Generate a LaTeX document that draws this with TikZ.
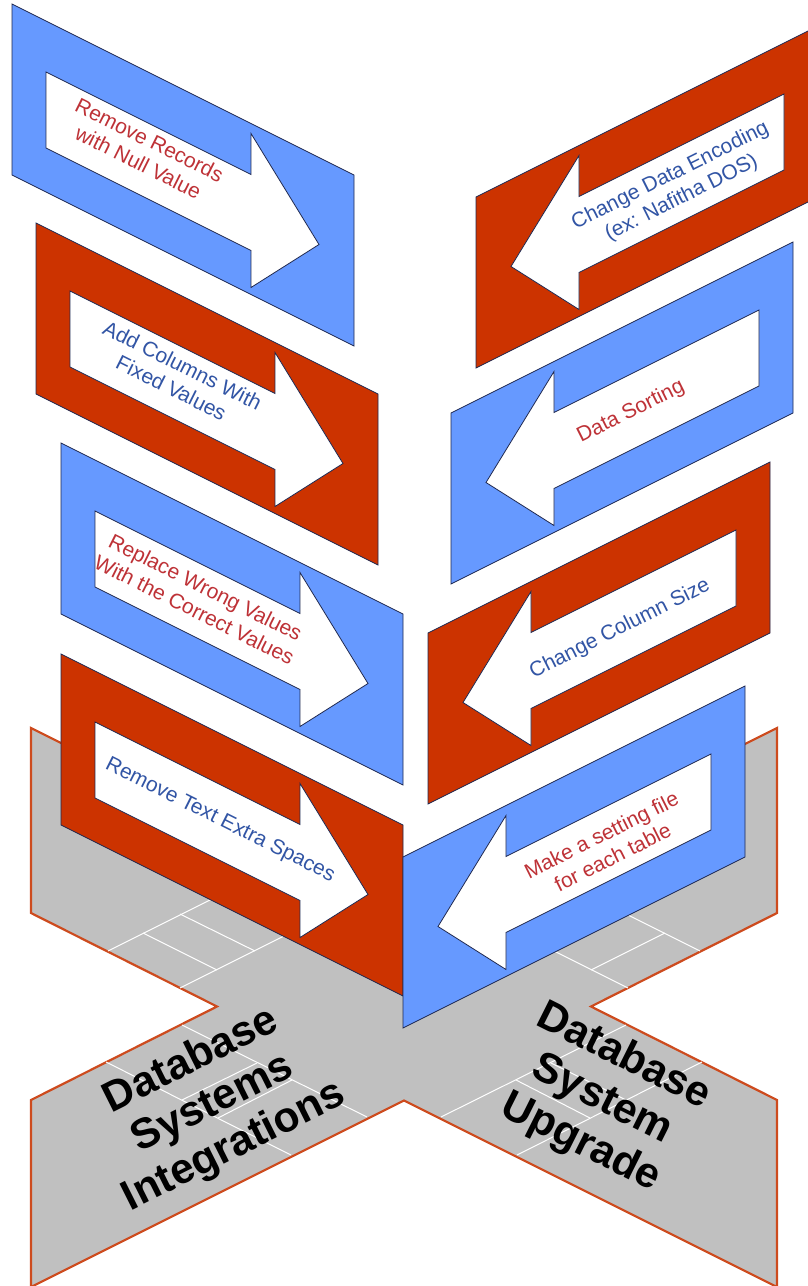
\documentclass[tikz,border=0pt]{standalone}
\usepackage{fontspec}
\setmainfont{Liberation Sans}
\usepackage{tikz}

\definecolor{pblue}{RGB}{102,153,255}
\definecolor{pred}{RGB}{204,51,0}
\definecolor{pedge}{RGB}{30,40,80}
\definecolor{tred}{RGB}{190,50,55}
\definecolor{tblue}{RGB}{50,85,165}
\definecolor{floorgray}{RGB}{192,192,192}
\definecolor{flooredge}{RGB}{205,75,30}

\begin{document}
\begin{tikzpicture}[x=1pt,y=-1pt,
    panel/.style={draw=pedge,line width=0.8pt,line join=miter},
    sign/.style={insert path={(34,51) -- (239,51) -- (239,10) -- (307,87)
        -- (239,164) -- (239,127) -- (34,127) -- cycle}},
    leftwall/.style={yslant=-0.5},
    rightwall/.style={xscale=-1,yslant=-0.5},
    lbl/.style={align=center,inner sep=0pt,font=\fontsize{21}{25}\selectfont},
    bigtext/.style={align=center,inner sep=0pt,font=\bfseries\fontsize{42.5}{48}\selectfont}]

      \useasboundingbox (0,0) rectangle (808,1286);
      \clip (0,0) rectangle (808,1286);

      \path[fill=floorgray,draw=flooredge,line width=2.2pt,line join=miter]
        (31,728) -- (404,914.5) -- (777,728) -- (777,913) -- (591,1006.5)
        -- (777,1100) -- (777,1287) -- (404,1100.5) -- (31,1287) -- (31,1100)
        -- (217,1006.5) -- (31,913) -- cycle;

      \begin{scope}[every path/.style={draw=white,line width=1pt}]
        \path (108,951) -- (230,890);
        \path (180,988) -- (300,928);
        \path (143,933) -- (217,970);
        \path (180,914) -- (255,951);
        \path (700,951) -- (578,890);
        \path (628,988) -- (508,928);
        \path (665,933) -- (591,970);
        \path (182,1025) -- (367,1117);
        \path (106,1062) -- (291,1155);
        \path (182,1100) -- (257,1063);
        \path (218,1118) -- (292,1080);
        \path (626,1025) -- (441,1117);
        \path (702,1062) -- (517,1155);
        \path (626,1100) -- (551,1063);
        \path (590,1118) -- (516,1080);
      \end{scope}

      \node[bigtext,rotate=26.57] (dbi) at (213,1104) {Database\\Systems\\Integrations};
      \node[bigtext,rotate=-26.57] (dbu) at (602,1100) {Database\\System\\Upgrade};

      \begin{scope}[shift={(12,4)},leftwall]
        \path[panel,fill=pblue] (0,0) rectangle (342,171);
        \path[panel,fill=white,sign];
        \node[lbl,text=tred,rotate=-26.57] (nullrec) at (132,81) {Remove Records\\with Null Value};
      \end{scope}

      \begin{scope}[shift={(36,223)},leftwall]
        \path[panel,fill=pred] (0,0) rectangle (342,171);
        \path[panel,fill=white,sign];
        \node[lbl,text=tblue,rotate=-26.57] (fixcols) at (141,83) {Add Columns With\\Fixed Values};
      \end{scope}

      \begin{scope}[shift={(61,443)},leftwall]
        \path[panel,fill=pblue] (0,0) rectangle (342,171);
        \path[panel,fill=white,sign];
        \node[lbl,text=tred,rotate=-26.57] (wrongval) at (139,86) {Replace Wrong Values\\With the Correct Values};
      \end{scope}

      \begin{scope}[shift={(61,654)},leftwall]
        \path[panel,fill=pred] (0,0) rectangle (342,171);
        \path[panel,fill=white,sign];
        \node[lbl,text=tblue,rotate=-26.57] (spaces) at (159,87) {Remove Text Extra Spaces};
      \end{scope}

      \begin{scope}[shift={(818,26)},rightwall]
        \path[panel,fill=pred] (0,0) rectangle (342,171);
        \path[panel,fill=white,sign];
        \node[lbl,text=tblue,rotate=26.57] (encoding) at (142,90) {Change Data Encoding\\(ex: Nafitha DOS)};
      \end{scope}

      \begin{scope}[shift={(793,242)},rightwall]
        \path[panel,fill=pblue] (0,0) rectangle (342,171);
        \path[panel,fill=white,sign];
        \node[lbl,text=tred,rotate=26.57] (sorting) at (162,89) {Data Sorting};
      \end{scope}

      \begin{scope}[shift={(770,462)},rightwall]
        \path[panel,fill=pred] (0,0) rectangle (342,171);
        \path[panel,fill=white,sign];
        \node[lbl,text=tblue,rotate=26.57] (colsize) at (150,92) {Change Column Size};
      \end{scope}

      \begin{scope}[shift={(745,686)},rightwall]
        \path[panel,fill=pblue] (0,0) rectangle (342,171);
        \path[panel,fill=white,sign];
        \node[lbl,text=tred,rotate=26.57] (settings) at (138,91) {Make a setting file\\for each table};
      \end{scope}
    \end{tikzpicture}
\end{document}
